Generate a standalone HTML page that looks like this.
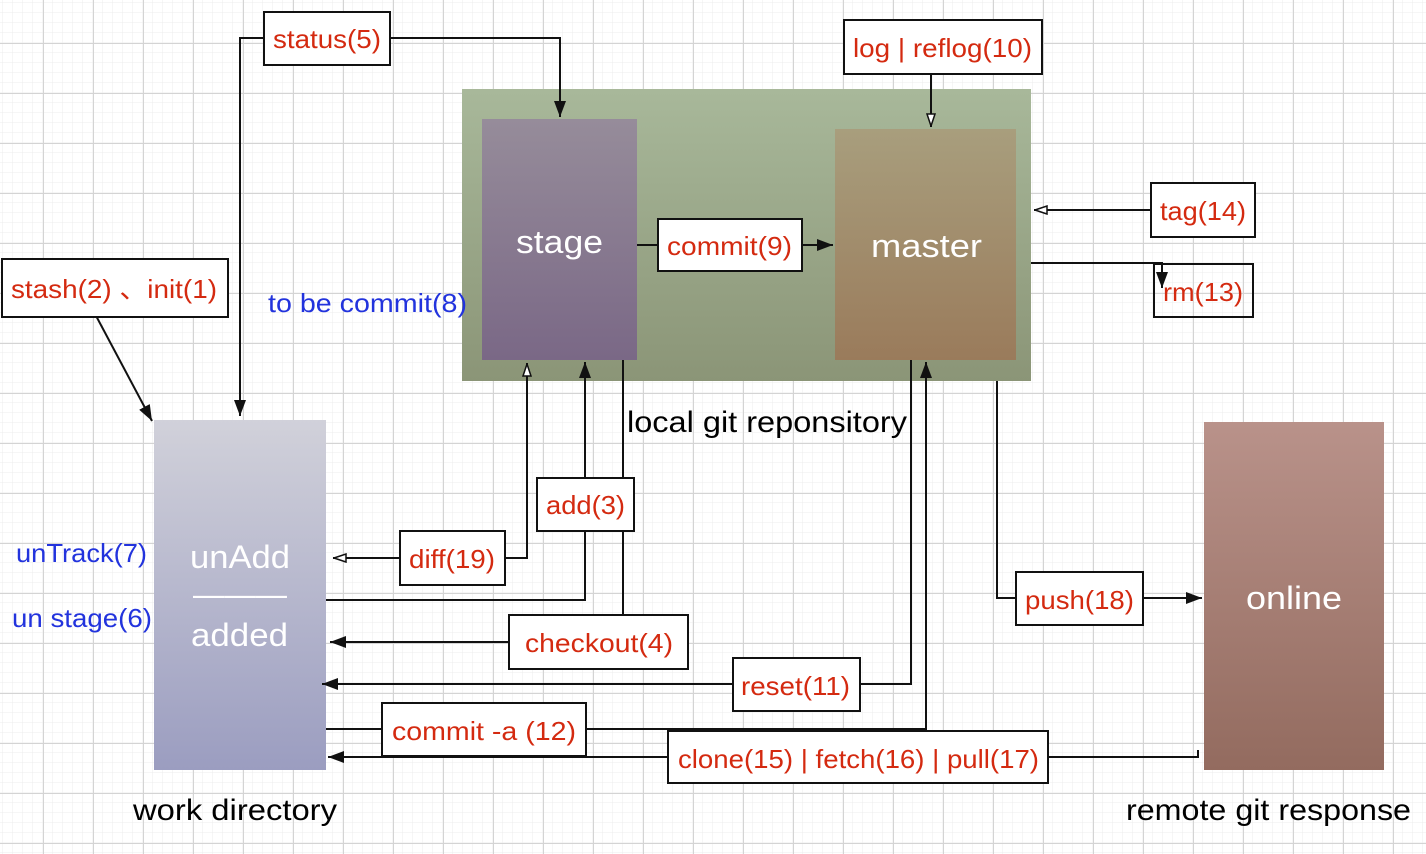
<!DOCTYPE html>
<html><head><meta charset="utf-8"><style>
html,body{margin:0;padding:0;background:#fff;}
svg{display:block;}
text{font-family:"Liberation Sans",sans-serif;}
.r{fill:#d42a10;font-size:26px;}
.b{fill:#2233dd;font-size:26px;}
.k{fill:#000;font-size:30px;}
.w{fill:#fff;font-size:32px;}
.bx{fill:#fff;stroke:#111;stroke-width:2;}
.ln{fill:none;stroke:#111;stroke-width:2;}
</style></head><body>
<svg width="1426" height="854" viewBox="0 0 1426 854" xmlns="http://www.w3.org/2000/svg">
<defs>
<pattern id="mi" x="3" y="3" width="10" height="10" patternUnits="userSpaceOnUse"><path d="M10 0V10M0 10H10" fill="none" stroke="#ececec" stroke-width="1"/></pattern>
<pattern id="ma" x="43" y="43" width="50" height="50" patternUnits="userSpaceOnUse"><path d="M0.5 0V50M0 0.5H50" fill="none" stroke="#d4d4d4" stroke-width="1"/></pattern>
<linearGradient id="gr" x1="0" y1="0" x2="0" y2="1"><stop offset="0" stop-color="#a8b89a"/><stop offset="1" stop-color="#8b9577"/></linearGradient>
<linearGradient id="gs" x1="0" y1="0" x2="0" y2="1"><stop offset="0" stop-color="#968c9a"/><stop offset="1" stop-color="#7a6886"/></linearGradient>
<linearGradient id="gm" x1="0" y1="0" x2="0" y2="1"><stop offset="0" stop-color="#a89e7d"/><stop offset="1" stop-color="#9a7b5b"/></linearGradient>
<linearGradient id="gw" x1="0" y1="0" x2="0" y2="1"><stop offset="0" stop-color="#d1d1da"/><stop offset="1" stop-color="#9b9dc0"/></linearGradient>
<linearGradient id="go" x1="0" y1="0" x2="0" y2="1"><stop offset="0" stop-color="#b9928a"/><stop offset="1" stop-color="#936b5f"/></linearGradient>
<marker id="af" viewBox="0 0 16 12" refX="16" refY="6" markerWidth="16" markerHeight="12" markerUnits="userSpaceOnUse" orient="auto"><path d="M0 0L16 6L0 12Z" fill="#111"/></marker>
<marker id="ao" viewBox="0 0 14 10" refX="14" refY="5" markerWidth="14" markerHeight="10" markerUnits="userSpaceOnUse" orient="auto"><path d="M1 1L13 5L1 9Z" fill="#fff" stroke="#111" stroke-width="1.5"/></marker>
</defs>
<rect width="1426" height="854" fill="url(#mi)"/>
<rect width="1426" height="854" fill="url(#ma)"/>

<rect x="462" y="89" width="569" height="292" fill="url(#gr)"/>
<rect x="482" y="119" width="155" height="241" fill="url(#gs)"/>
<rect x="835" y="129" width="181" height="231" fill="url(#gm)"/>
<rect x="154" y="420" width="172" height="350" fill="url(#gw)"/>
<rect x="1204" y="422" width="180" height="348" fill="url(#go)"/>

<path class="ln" d="M264 38H240V416" marker-end="url(#af)"/>
<path class="ln" d="M390 38H560V117" marker-end="url(#af)"/>
<path class="ln" d="M931 74V127" marker-end="url(#ao)"/>
<path class="ln" d="M637 245H658"/>
<path class="ln" d="M802 245H833" marker-end="url(#af)"/>
<path class="ln" d="M1151 210H1034" marker-end="url(#ao)"/>
<path class="ln" d="M1031 263H1162V288" marker-end="url(#af)"/>
<path class="ln" d="M94 312L152 421" marker-end="url(#af)"/>
<path class="ln" d="M585 478V362" marker-end="url(#af)"/>
<path class="ln" d="M585 531V600H326"/>
<path class="ln" d="M623 360V614"/>
<path class="ln" d="M505 558H527V363" marker-end="url(#ao)"/>
<path class="ln" d="M400 558H333" marker-end="url(#ao)"/>
<path class="ln" d="M509 642H330" marker-end="url(#af)"/>
<path class="ln" d="M860 684H911V360"/>
<path class="ln" d="M733 684H322" marker-end="url(#af)"/>
<path class="ln" d="M326 729H382"/>
<path class="ln" d="M586 729H926V362" marker-end="url(#af)"/>
<path class="ln" d="M1048 757H1198V750"/>
<path class="ln" d="M668 757H328" marker-end="url(#af)"/>
<path class="ln" d="M997 381V598H1016"/>
<path class="ln" d="M1143 598H1202" marker-end="url(#af)"/>

<rect class="bx" x="264" y="12" width="126" height="53"/><text class="r" x="273" y="48" textLength="108" lengthAdjust="spacingAndGlyphs">status(5)</text>
<rect class="bx" x="844" y="20" width="198" height="54"/><text class="r" x="853" y="57" textLength="179" lengthAdjust="spacingAndGlyphs">log | reflog(10)</text>
<rect class="bx" x="658" y="219" width="144" height="52"/><text class="r" x="667" y="255" textLength="125" lengthAdjust="spacingAndGlyphs">commit(9)</text>
<rect class="bx" x="1151" y="183" width="104" height="54"/><text class="r" x="1160" y="220" textLength="86" lengthAdjust="spacingAndGlyphs">tag(14)</text>
<rect class="bx" x="1154" y="264" width="99" height="53" style="fill:none"/><text class="r" x="1163" y="301" textLength="80" lengthAdjust="spacingAndGlyphs">rm(13)</text>
<rect class="bx" x="2" y="259" width="226" height="58"/><text class="r" x="11" y="298" textLength="206" lengthAdjust="spacingAndGlyphs">stash(2) 、init(1)</text>
<rect class="bx" x="537" y="478" width="97" height="53"/><text class="r" x="546" y="514" textLength="79" lengthAdjust="spacingAndGlyphs">add(3)</text>
<rect class="bx" x="400" y="531" width="105" height="54"/><text class="r" x="409" y="568" textLength="86" lengthAdjust="spacingAndGlyphs">diff(19)</text>
<rect class="bx" x="509" y="615" width="179" height="54"/><text class="r" x="525" y="652" textLength="148" lengthAdjust="spacingAndGlyphs">checkout(4)</text>
<rect class="bx" x="733" y="658" width="127" height="53"/><text class="r" x="741" y="695" textLength="109" lengthAdjust="spacingAndGlyphs">reset(11)</text>
<rect class="bx" x="382" y="703" width="204" height="53"/><text class="r" x="392" y="740" textLength="184" lengthAdjust="spacingAndGlyphs">commit -a (12)</text>
<rect class="bx" x="668" y="731" width="380" height="52"/><text class="r" x="678" y="768" textLength="361" lengthAdjust="spacingAndGlyphs">clone(15) | fetch(16) | pull(17)</text>
<rect class="bx" x="1016" y="572" width="127" height="53"/><text class="r" x="1025" y="609" textLength="109" lengthAdjust="spacingAndGlyphs">push(18)</text>

<text class="w" x="516" y="253" textLength="87" lengthAdjust="spacingAndGlyphs">stage</text>
<text class="w" x="871" y="257" textLength="111" lengthAdjust="spacingAndGlyphs">master</text>
<text class="w" x="190" y="568" textLength="100" lengthAdjust="spacingAndGlyphs">unAdd</text>
<text class="w" x="193" y="605" textLength="94" lengthAdjust="spacingAndGlyphs">———</text>
<text class="w" x="191" y="646" textLength="97" lengthAdjust="spacingAndGlyphs">added</text>
<text class="w" x="1246" y="609" textLength="96" lengthAdjust="spacingAndGlyphs">online</text>
<text class="b" x="268" y="312" textLength="199" lengthAdjust="spacingAndGlyphs">to be commit(8)</text>
<text class="b" x="16" y="562" textLength="131" lengthAdjust="spacingAndGlyphs">unTrack(7)</text>
<text class="b" x="12" y="627" textLength="140" lengthAdjust="spacingAndGlyphs">un stage(6)</text>
<text class="k" x="627" y="432" textLength="280" lengthAdjust="spacingAndGlyphs">local git reponsitory</text>
<text class="k" x="133" y="820" textLength="204" lengthAdjust="spacingAndGlyphs">work directory</text>
<text class="k" x="1126" y="820" textLength="285" lengthAdjust="spacingAndGlyphs">remote git response</text>
</svg>
</body></html>
